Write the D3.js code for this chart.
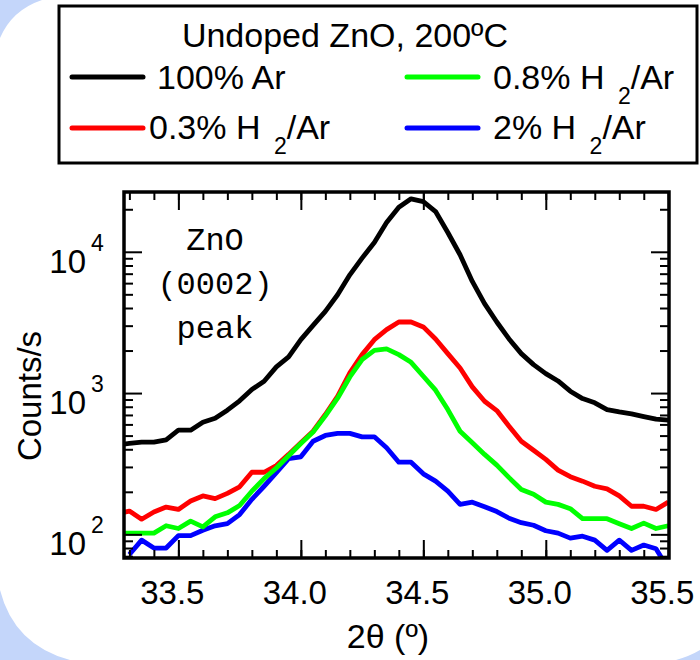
<!DOCTYPE html>
<html>
<head>
<meta charset="utf-8">
<script src="https://cdn.jsdelivr.net/npm/d3@7"></script>
<style>
  html, body { margin: 0; padding: 0; background: #ffffff; }
  svg { display: block; }
  text { font-family: "Liberation Sans", Arial, sans-serif; fill: #000; }
</style>
</head>
<body>
<svg id="chart" width="700" height="660"></svg>
<script>
// 2-theta scan positions (degrees)
const theta = [33.25, 33.30, 33.35, 33.40, 33.45, 33.50, 33.55, 33.60, 33.65, 33.70, 33.75,
  33.80, 33.85, 33.90, 33.95, 34.00, 34.05, 34.10, 34.15, 34.20, 34.25,
  34.30, 34.35, 34.40, 34.45, 34.50, 34.55, 34.60, 34.65, 34.70, 34.75,
  34.80, 34.85, 34.90, 34.95, 35.00, 35.05, 35.10, 35.15, 35.20, 35.25,
  35.30, 35.35, 35.40, 35.45, 35.50];

// Counts/s for each anneal atmosphere
const ar100 = [430, 440, 449, 449, 467, 546, 546, 622, 664, 757, 881,
  1060, 1212, 1532, 1803, 2388, 3015, 3783, 4966, 6867, 9020,
  11640, 16100, 20690, 23710, 22680, 19270, 13690, 9525, 6170, 4296,
  3184, 2417, 1901, 1589, 1374, 1218, 1031, 914, 853, 764,
  736, 713, 682, 653, 643];
const h2_03 = [140, 146, 128, 144, 156, 150, 172, 187, 179, 195, 217,
  275, 275, 307, 368, 445, 537, 705, 949, 1390, 1871,
  2388, 2811, 3184, 3184, 2940, 2417, 1901, 1506, 1107, 875,
  752, 582, 456, 394, 339, 285, 256, 238, 219, 210,
  187, 158, 158, 150, 169];
const h2_08 = [102, 102, 102, 102, 115, 110, 124, 113, 133, 142, 160,
  202, 248, 295, 360, 440, 530, 690, 920, 1300, 1727,
  2006, 2053, 1871, 1650, 1316, 1048, 764, 537, 445, 368,
  309, 252, 208, 192, 169, 163, 152, 129, 129, 129,
  119, 110, 120, 110, 115];
const h2_2 = [null, 72, 91, 80, 80, 98, 98, 107, 115, 119, 138,
  177, 219, 273, 343, 354, 456, 501, 518, 518, 490,
  490, 410, 324, 324, 268, 238, 202, 163, 169, 157,
  145, 130, 121, 116, 106, 102, 94, 97, 91, 77,
  91, 77, 84, 79, 57];

const seriesNames = ["100% Ar", "0.3% H2/Ar", "0.8% H2/Ar", "2% H2/Ar"];
const seriesColors = ["#000000", "#ff0000", "#00ff00", "#0000ff"];
const seriesValues = [ar100, h2_03, h2_08, h2_2];
// drawing order: later series on top
const drawOrder = [0, 1, 3, 2];

const xTickValues = [33.5, 34.0, 34.5, 35.0, 35.5];
const xTickLabels = ["33.5", "34.0", "34.5", "35.0", "35.5"];
const yTickValues = [1e2, 1e3, 1e4];
const yTickExponents = ["2", "3", "4"];

const legendTitle = "Undoped ZnO, 200ºC";
const peakNote = ["ZnO", "(0002)", "peak"];

// ---- layout ----
const W = 700, H = 660;
const L = 124, R = 669, T = 192, B = 558;

const svg = d3.select("#chart");

// page background with pale blue corners
svg.append("rect").attr("width", W).attr("height", H).attr("fill", "#ffffff");
const bgBlue = "#c4d6fa";
svg.append("path").attr("fill", bgBlue).attr("d", "M0,0 H42 Q12,10 0,38 Z");
svg.append("path").attr("fill", bgBlue).attr("d", "M0,590 Q14,645 70,660 H0 Z");
svg.append("path").attr("fill", bgBlue).attr("d", "M676,660 Q690,656 700,650 V660 Z");

// ---- scales ----
const x = d3.scaleLinear().domain([33.278, 35.503]).range([L, R]);
const y = d3.scaleLog().domain([68, 26500]).range([B, T]);

// ---- data lines ----
svg.append("defs").append("clipPath").attr("id", "plotClip")
  .append("rect").attr("x", L).attr("y", T).attr("width", R - L).attr("height", B - T);

const line = d3.line()
  .defined(d => d[1] != null)
  .x(d => x(d[0]))
  .y(d => y(d[1]));

const lines = svg.append("g").attr("clip-path", "url(#plotClip)");
drawOrder.forEach(i => {
  const pts = theta.map((t, j) => [t, seriesValues[i][j]]);
  lines.append("path")
    .attr("d", line(pts))
    .attr("fill", "none")
    .attr("stroke", seriesColors[i])
    .attr("stroke-width", 4.8)
    .attr("stroke-linejoin", "round");
});

// ---- axes (inward ticks on all four sides) ----
const xMinor = x.ticks(20);
const yMinor = y.ticks().filter(v => yTickValues.indexOf(v) < 0);

function styleAxis(g) {
  g.select(".domain").remove();
  g.selectAll(".tick line").attr("stroke", "#000").attr("stroke-width", 2);
  g.selectAll(".tick text").remove();
}

svg.append("g").attr("transform", `translate(0,${B})`)
  .call(d3.axisBottom(x).tickValues(xMinor).tickSize(-8).tickFormat("")).call(styleAxis);
svg.append("g").attr("transform", `translate(0,${B})`)
  .call(d3.axisBottom(x).tickValues(xTickValues).tickSize(-18).tickFormat("")).call(styleAxis);
svg.append("g").attr("transform", `translate(0,${T})`)
  .call(d3.axisTop(x).tickValues(xMinor).tickSize(-8).tickFormat("")).call(styleAxis);
svg.append("g").attr("transform", `translate(0,${T})`)
  .call(d3.axisTop(x).tickValues(xTickValues).tickSize(-18).tickFormat("")).call(styleAxis);

svg.append("g").attr("transform", `translate(${L},0)`)
  .call(d3.axisLeft(y).tickValues(yMinor).tickSize(-9).tickFormat("")).call(styleAxis);
svg.append("g").attr("transform", `translate(${L},0)`)
  .call(d3.axisLeft(y).tickValues(yTickValues).tickSize(-18).tickFormat("")).call(styleAxis);
svg.append("g").attr("transform", `translate(${R},0)`)
  .call(d3.axisRight(y).tickValues(yMinor).tickSize(-9).tickFormat("")).call(styleAxis);
svg.append("g").attr("transform", `translate(${R},0)`)
  .call(d3.axisRight(y).tickValues(yTickValues).tickSize(-18).tickFormat("")).call(styleAxis);

// plot frame
svg.append("rect")
  .attr("x", L).attr("y", T).attr("width", R - L).attr("height", B - T)
  .attr("fill", "none").attr("stroke", "#000").attr("stroke-width", 3.5);

// x tick labels
svg.append("g").selectAll("text").data(xTickValues).join("text")
  .attr("x", d => x(d) - 6)
  .attr("y", 604)
  .attr("text-anchor", "middle")
  .attr("font-size", 33)
  .text((d, i) => xTickLabels[i]);

// y tick labels: 10 with superscript exponent
const yLab = svg.append("g").selectAll("g").data(yTickValues).join("g");
yLab.append("text")
  .attr("x", 86).attr("y", d => y(d) + 21)
  .attr("text-anchor", "end").attr("font-size", 33)
  .text("10");
yLab.append("text")
  .attr("x", 91).attr("y", d => y(d) - 1)
  .attr("font-size", 23)
  .text((d, i) => yTickExponents[i]);

// axis titles
svg.append("text")
  .attr("x", 388).attr("y", 648)
  .attr("text-anchor", "middle").attr("font-size", 34)
  .text("2θ (º)");
svg.append("text")
  .attr("transform", "translate(41,396) rotate(-90)")
  .attr("text-anchor", "middle").attr("font-size", 33)
  .text("Counts/s");

// peak annotation inside the plot
svg.append("g").selectAll("text").data(peakNote).join("text")
  .attr("x", 215)
  .attr("y", (d, i) => 250 + i * 44)
  .attr("text-anchor", "middle")
  .attr("font-size", 32)
  .style("font-family", "'Liberation Mono', 'Courier New', monospace")
  .attr("fill", "#333")
  .text(d => d);

// ---- legend ----
const lg = svg.append("g");
lg.append("rect")
  .attr("x", 59).attr("y", 6).attr("width", 638).attr("height", 157)
  .attr("fill", "#fff").attr("stroke", "#000").attr("stroke-width", 3);
lg.append("text")
  .attr("x", 345).attr("y", 47)
  .attr("text-anchor", "middle").attr("font-size", 34)
  .text(legendTitle);

const legendSlots = [
  { lx: 72, ly: 77, tx: 157, ty: 89 },
  { lx: 72, ly: 128, tx: 149, ty: 139 },
  { lx: 407, ly: 77, tx: 493, ty: 89 },
  { lx: 407, ly: 128, tx: 493, ty: 139 }
];

seriesNames.forEach((name, i) => {
  const s = legendSlots[i];
  lg.append("line")
    .attr("x1", s.lx).attr("x2", s.lx + 71)
    .attr("y1", s.ly).attr("y2", s.ly)
    .attr("stroke", seriesColors[i]).attr("stroke-width", 5)
    .attr("stroke-linecap", "round");
  const t = lg.append("text")
    .attr("x", s.tx).attr("y", s.ty).attr("font-size", 34);
  const m = name.match(/^(.*H)2(\/Ar)$/);
  if (m) {
    t.append("tspan").text(m[1] + " ");
    t.append("tspan").attr("dy", 15).attr("dx", 4).attr("font-size", 23).text("2");
    t.append("tspan").attr("dy", -15).text(m[2]);
  } else {
    t.text(name);
  }
});
</script>
</body>
</html>
